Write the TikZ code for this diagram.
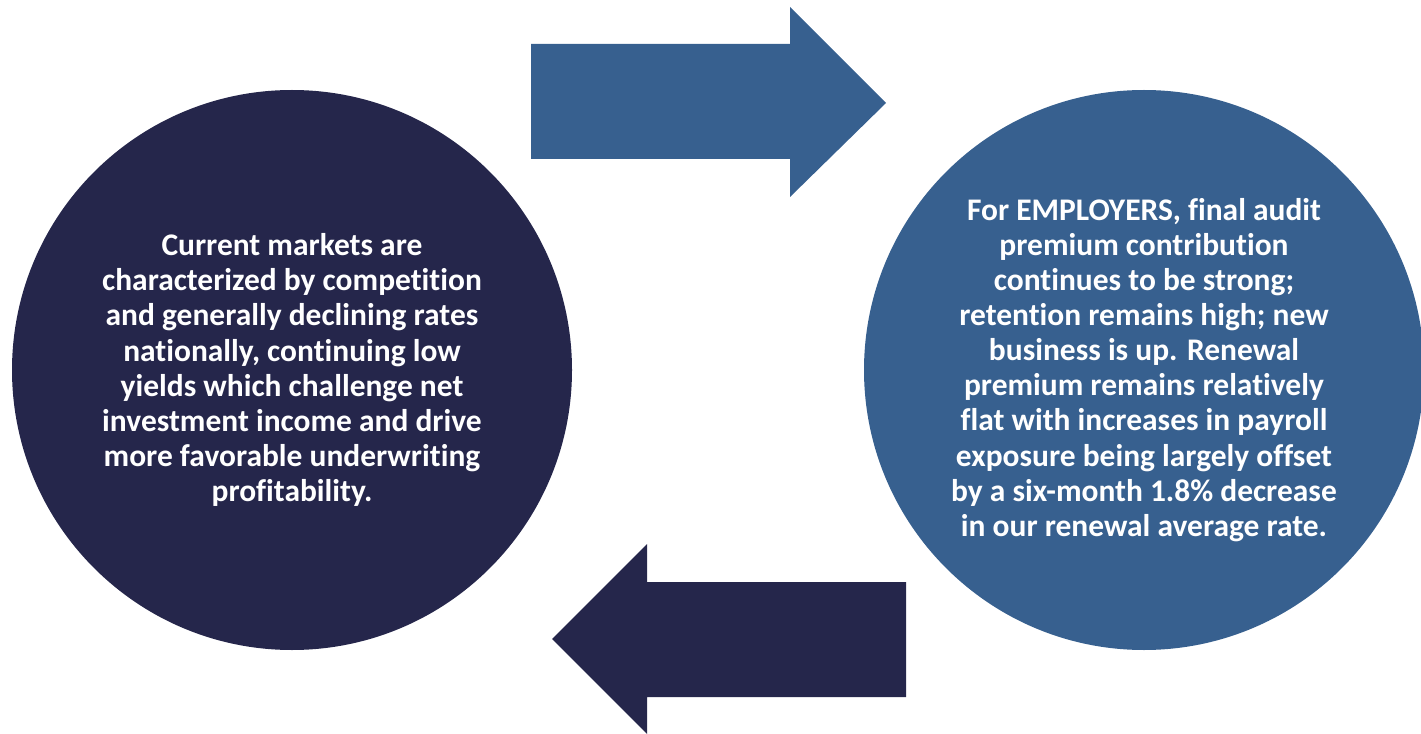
\documentclass[tikz,border=0pt]{standalone}
\usepackage{fontspec}
\setmainfont[Ligatures=NoCommon]{Carlito}
\definecolor{navy}{HTML}{25264B}
\definecolor{steel}{HTML}{37608F}
\begin{document}
\begin{tikzpicture}[x=0.75pt,y=-0.75pt,
  blob/.style={circle,inner sep=0pt,minimum size=420pt,text=white,align=center,
    font=\bfseries\fontsize{23.6pt}{26.3pt}\selectfont}]
\useasboundingbox (0,0) rectangle (1421,734);
\node[blob,fill=navy] (L) at (292,370) {Current markets are\\characterized by competition\\and generally declining rates\\nationally, continuing low\\yields which challenge net\\investment income and drive\\more favorable underwriting\\profitability.};
\node[blob,fill=steel] (R) at (1144,370) {For EMPLOYERS, final audit\\premium contribution\\continues to be strong;\\retention remains high; new\\business is up. Renewal\\premium remains relatively\\flat with increases in payroll\\exposure being largely offset\\by a six-month 1.8\% decrease\\in our renewal average rate.};
\fill[steel] (531,44) -- (790,44) -- (790,7) -- (886,103) -- (790,197) -- (790,159) -- (531,159) -- cycle;
\fill[navy] (906,582) -- (647,582) -- (647,544) -- (552,639) -- (647,734) -- (647,697) -- (906,697) -- cycle;
\end{tikzpicture}
\end{document}
